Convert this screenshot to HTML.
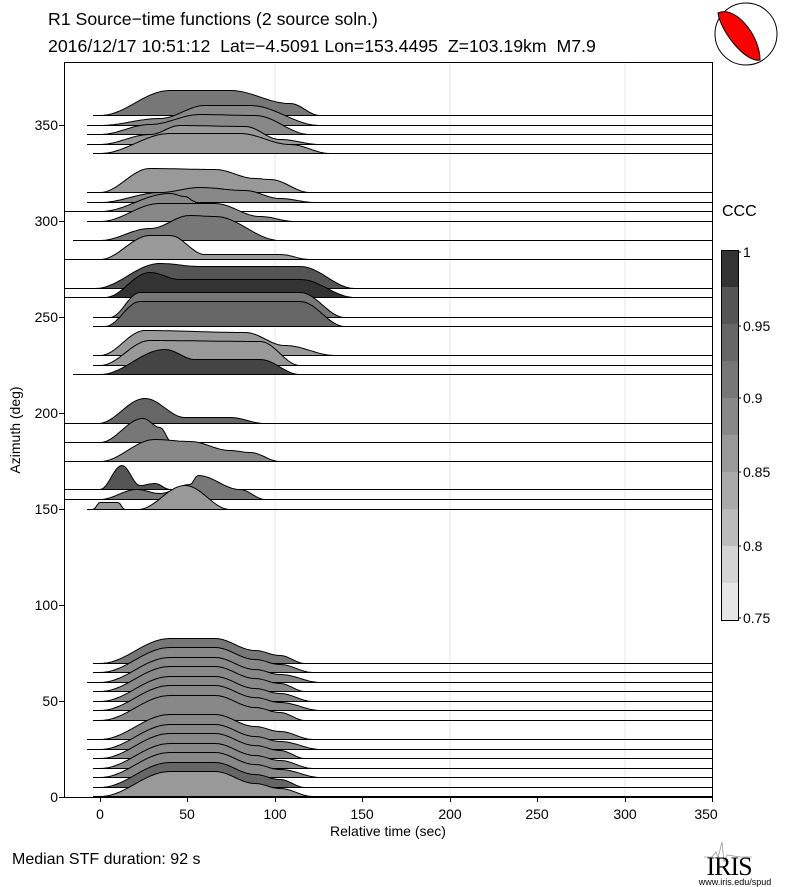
<!DOCTYPE html>
<html><head><meta charset="utf-8"><style>
html,body{margin:0;padding:0;background:#fff}
svg{display:block;font-family:"Liberation Sans",sans-serif}
</style></head><body>
<svg id="s" width="787" height="887" viewBox="0 0 787 887" xmlns="http://www.w3.org/2000/svg">
<rect width="787" height="887" fill="#fff"/>
<text x="48" y="25" font-size="17.7" style="white-space:pre">R1 Source−time functions (2 source soln.)</text>
<text x="48" y="52" font-size="17.7" style="white-space:pre">2016/12/17 10:51:12  Lat=−4.5091 Lon=153.4495  Z=103.19km  M7.9</text>
<g stroke="#e6e6e6" stroke-width="1">
<line x1="275" y1="63" x2="275" y2="797"/><line x1="450" y1="63" x2="450" y2="797"/><line x1="625" y1="63" x2="625" y2="797"/>
</g>
<g id="tr"></g>
<rect x="64.5" y="62.5" width="648" height="735" fill="none" stroke="#000" stroke-width="1"/>
<g stroke="#000" stroke-width="1" id="ticks"></g>
<g font-size="14" text-anchor="end" id="yl">
<text x="58" y="130">350</text><text x="58" y="226">300</text><text x="58" y="322">250</text><text x="58" y="418">200</text><text x="58" y="514">150</text><text x="58" y="610">100</text><text x="58" y="706">50</text><text x="58" y="802">0</text>
</g>
<g font-size="14" text-anchor="middle">
<text x="100" y="819">0</text><text x="187" y="819">50</text><text x="275" y="819">100</text><text x="362" y="819">150</text><text x="450" y="819">200</text><text x="537" y="819">250</text><text x="625" y="819">300</text><text x="706" y="819">350</text>
</g>
<text x="388" y="836" font-size="14" text-anchor="middle">Relative time (sec)</text>
<text transform="translate(20,430) rotate(-90)" font-size="14" text-anchor="middle">Azimuth (deg)</text>
<text x="12" y="864" font-size="16">Median STF duration: 92 s</text>
<text x="722" y="216" font-size="16">CCC</text>
<g id="cb"></g>
<g font-size="14">
<text x="743" y="257">1</text><text x="743" y="331">0.95</text><text x="743" y="403">0.9</text><text x="743" y="477">0.85</text><text x="743" y="551">0.8</text><text x="743" y="623">0.75</text>
</g>
<circle cx="746" cy="34" r="31" fill="#fff" stroke="#000" stroke-width="1"/>
<path d="M718,13 C735,5 760,35 760,60 C745,63 720,30 718,13 Z" fill="#f00" stroke="#000" stroke-width="1"/>
<path d="M704,857 L712,857 L716,852 L718,858 L722,842 L724,862 L727,855 L740,857 L752,857" stroke="#999" fill="none" stroke-width="0.8"/>
<text x="729" y="875" font-size="26" font-family="Liberation Serif" text-anchor="middle" letter-spacing="-1">IRIS</text>
<text x="735" y="885" font-size="9" text-anchor="middle">www.iris.edu/spud</text>
</svg>
<script>
var NS="http://www.w3.org/2000/svg";
function el(n,a,p){var e=document.createElementNS(NS,n);for(var k in a)e.setAttribute(k,a[k]);p.appendChild(e);return e;}
var T=[
[115,93,"#777",[[100,0],[170,25],[230,25],[290,12],[320,0]]],
[125,87,"#888",[[100,0],[160,7],[205,20],[250,20],[320,0]]],
[134,87,"#888",[[100,0],[150,10],[200,20],[255,19],[310,0]]],
[144,87,"#999",[[100,0],[150,10],[180,19],[245,18],[280,5],[320,0]]],
[153,93,"#999",[[100,0],[170,20],[240,20],[290,9],[330,0]]],
[192,87,"#999",[[100,0],[150,24],[215,23],[255,14],[270,13],[310,0]]],
[202,87,"#888",[[100,0],[160,10],[200,15],[245,12],[280,4],[315,0]]],
[211,64,"#888",[[100,0],[170,18],[185,15],[195,10],[200,0]]],
[221,87,"#888",[[100,0],[160,18],[215,18],[260,5],[295,0]]],
[240,73,"#777",[[100,0],[150,12],[190,25],[215,24],[280,0]]],
[259,64,"#999",[[100,0],[150,24],[170,24],[205,5],[280,5],[310,0]]],
[288,64,"#555",[[95,0],[160,25],[200,22],[300,22],[355,0]]],
[297,64,"#333",[[105,0],[150,25],[180,18],[300,18],[355,0]]],
[317,93,"#777",[[110,0],[140,25],[300,25],[345,0]]],
[326,93,"#666",[[105,0],[140,25],[300,25],[345,0]]],
[355,93,"#999",[[100,0],[145,25],[245,23],[285,10],[335,0]]],
[365,93,"#999",[[100,0],[150,25],[260,24],[300,0]]],
[374,73,"#444",[[100,0],[165,25],[195,15],[260,15],[300,0]]],
[423,64,"#666",[[98,0],[145,25],[185,6],[230,6],[265,0]]],
[442,64,"#777",[[100,0],[143,24],[160,15],[172,0]]],
[461,64,"#888",[[100,0],[155,22],[190,20],[230,11],[250,9],[280,0]]],
[489,64,"#555",[[100,0],[122,24],[140,4],[155,6],[170,0]]],
[499,64,"#777",[[100,0],[137,10],[160,6],[190,15],[198,24],[240,10],[265,0]]],
[509,87,"#999",[[93,0],[100,7],[118,7],[125,0],[138,0],[185,24],[230,0]]]
];
var g5=[663,672,682,691,701,710,720,739,749,758,768,777,787,796];
var c5=["#777","#888","#888","#888","#888","#888","#888","#888","#888","#888","#888","#888","#666","#999"];
g5.forEach(function(y,i){T.push([y,i==2||i==7||i==8?87:93,c5[i],[[100,0],[170,25],[215,25],[255,13],[280,8],[305+(i%3)*8,0]]]);});
var G=document.getElementById("tr");
function ss(t){return 0.5-0.5*Math.cos(Math.PI*t);}
T.forEach(function(t){
 var y=t[0]+0.5,p=t[3],d="M"+p[0][0]+","+y;
 for(var i=0;i<p.length-1;i++){var a=p[i],b=p[i+1];for(var x=a[0];x<=b[0];x+=2){var h=a[1]+(b[1]-a[1])*ss((x-a[0])/(b[0]-a[0]||1));d+=" L"+x+","+(y-h).toFixed(1);}}
 var last=p[p.length-1][0];
 el("path",{d:d+" L"+last+","+y+" Z",fill:t[2],stroke:"none"},G);
 el("path",{d:d,fill:"none",stroke:"#000","stroke-width":"1"},G);
 el("line",{x1:t[1],y1:y,x2:712,y2:y,stroke:"#000","stroke-width":"1"},G);
});
var K=document.getElementById("ticks");
[125,221,317,413,509,605,701,797].forEach(function(y){el("line",{x1:64,y1:y+0.5,x2:59,y2:y+0.5},K);});
[100,187,275,362,450,537,625,712].forEach(function(x){el("line",{x1:x+0.5,y1:797,x2:x+0.5,y2:802},K);});
var C=document.getElementById("cb"),cols=["#333","#444","#555","#5c5c5c","#666","#6e6e6e","#777","#808080","#888","#919191","#999","#a3a3a3","#aaa","#b4b4b4","#bbb","#c8c8c8","#d4d4d4","#dedede","#e6e6e6","#ececec"];
for(var i=0;i<10;i++){el("rect",{x:721,y:250+i*37,width:17,height:37,fill:cols[i*2]},C);}
el("rect",{x:721.5,y:250.5,width:17,height:370,fill:"none",stroke:"#000"},C);
[252,326,398,472,546,618].forEach(function(y){el("line",{x1:738,y1:y,x2:741,y2:y,stroke:"#000"},C);});
</script>
</body></html>
